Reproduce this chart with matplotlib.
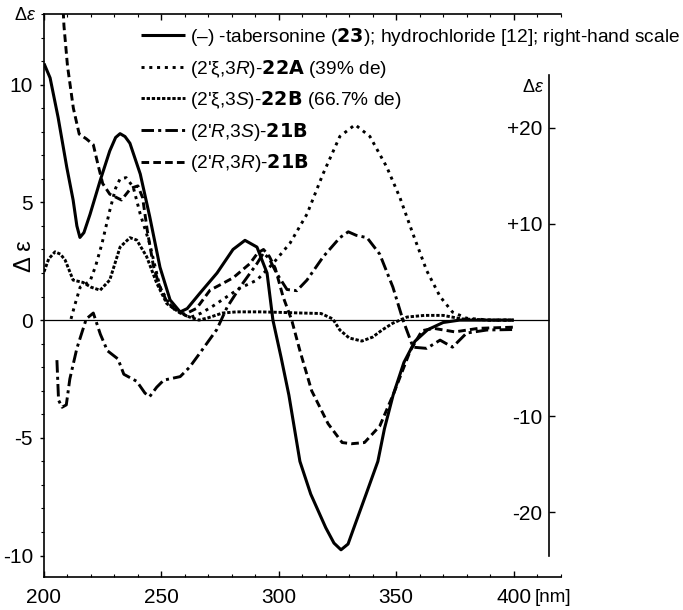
import matplotlib
matplotlib.use('Agg')
import matplotlib.pyplot as plt
from matplotlib.ticker import MultipleLocator, FixedLocator, FixedFormatter
from matplotlib import font_manager

plt.rcParams['font.family'] = ['Liberation Sans', 'DejaVu Sans']
plt.rcParams['axes.unicode_minus'] = False
plt.rcParams['mathtext.fontset'] = 'custom'
plt.rcParams['mathtext.rm'] = 'Liberation Sans'
plt.rcParams['mathtext.it'] = 'Liberation Sans:italic'
plt.rcParams['mathtext.bf'] = 'DejaVu Sans:bold'
plt.rcParams['lines.scale_dashes'] = False

names = {f.name for f in font_manager.fontManager.ttflist}
tick_family = 'Liberation Sans Narrow' if 'Liberation Sans Narrow' in names else 'Liberation Sans'

# ---------------- data ----------------
# (-)-tabersonine (23), right-hand scale
tab_nm = [200, 202.6, 206, 209.7, 212.4, 214, 215.3, 217, 219.6, 223.9, 228, 230.5, 232.4, 234.5,
          236.6, 241, 245, 249.4, 253.7, 258, 261, 266.4, 273.7, 280.5, 285.6, 290.7, 295, 297.5,
          301, 304.3, 309, 313.6, 320, 323.5, 326.5, 329.5, 332, 337.2, 342.2, 345, 348.7, 353.3,
          358, 363.4, 370, 377, 390, 400]
tab_de = [26.7, 25.2, 21.1, 15.9, 12.5, 9.8, 8.6, 9.1, 11.0, 14.5, 17.6, 19.0, 19.4, 19.1,
          18.4, 15.2, 10.8, 5.5, 2.1, 0.85, 1.2, 2.8, 4.9, 7.35, 8.3, 7.6, 4.9, 0.0,
          -3.9, -7.8, -14.7, -18.1, -21.6, -23.2, -23.9, -23.3, -21.6, -18.1, -14.7, -11.3, -7.8, -4.4,
          -2.2, -1.0, -0.25, 0.0, 0.0, 0.0]

# (2'xi,3R)-22A (39% de)
a22_nm = [211.5, 213, 215.4, 219.6, 222, 224.7, 228, 230.5, 232.4, 235, 238, 241, 245, 249.4, 253,
          256.6, 262, 267, 272, 278, 283.5, 290.7, 297.5, 304.8, 312, 318.8, 326, 332.5, 338.8,
          346, 351.6, 357, 363, 368.7, 374, 380, 390, 400]
a22_de = [0.05, 0.6, 1.4, 1.65, 2.3, 3.25, 4.65, 5.6, 6.0, 6.05, 5.65, 4.5, 3.25, 1.4, 0.75,
          0.42, 0.1, 0.3, 0.6, 1.0, 1.36, 1.7, 2.4, 3.27, 4.5, 6.2, 7.8, 8.3, 7.8,
          6.5, 5.2, 3.7, 2.1, 1.0, 0.34, 0.08, 0.0, 0.0]

# (2'xi,3S)-22B (66.7% de)
b22_nm = [200, 202, 204.7, 207, 209, 212.4, 216.6, 220, 223.9, 228, 232.4, 236.6, 239.5, 243.7,
          248, 252.3, 258, 262, 266, 270, 276, 282, 292, 300, 310, 318, 323, 326, 330, 335.4,
          340, 344, 348.6, 354.6, 362, 370, 378, 390, 400]
b22_de = [2.05, 2.6, 2.9, 2.8, 2.55, 1.7, 1.6, 1.4, 1.27, 1.7, 3.1, 3.5, 3.4, 2.7,
          1.57, 0.7, 0.3, 0.13, 0.0, 0.1, 0.3, 0.35, 0.35, 0.33, 0.3, 0.28, 0.05, -0.42, -0.76, -0.89,
          -0.72, -0.42, -0.13, 0.13, 0.2, 0.2, 0.05, 0.0, 0.0]

# (2'R,3S)-21B
rs21_nm = [205.5, 206.2, 207.7, 209.5, 211, 214, 218, 221, 224, 227, 231.5, 234, 239.5, 243, 245,
           248, 251, 258, 262, 266.4, 273.6, 278, 283.5, 290.7, 293.5, 296, 299, 303.5, 307.7,
           312, 319, 326, 329.6, 333, 337.6, 343, 348.6, 352.9, 357.2, 363, 368.7, 374, 380,
           388.7, 400]
rs21_de = [-1.7, -3.4, -3.7, -3.6, -2.5, -1.2, 0.05, 0.3, -0.6, -1.3, -1.65, -2.3, -2.6, -3.1, -3.25,
           -2.85, -2.55, -2.4, -2.0, -1.4, -0.4, 0.55, 1.4, 2.4, 2.85, 2.6, 2.0, 1.3, 1.25,
           1.7, 2.7, 3.5, 3.75, 3.6, 3.5, 2.8, 1.4, 0.0, -1.15, -1.2, -0.85, -1.15, -0.55,
           -0.42, -0.4]

# (2'R,3R)-21B
rr21_nm = [207.5, 208.5, 210, 212.5, 215, 218, 221, 223, 225, 228, 233, 237, 240, 242, 244, 246.6,
           249, 252, 256, 260, 265, 270.7, 276, 280.6, 287.7, 291, 293.5, 296, 298.5, 301.8,
           305.5, 309, 314, 321, 327, 331, 336.5, 343, 349, 356, 361, 366, 375, 385, 400]
rr21_de = [14.5, 12.5, 10.8, 9.0, 7.9, 7.7, 7.45, 6.6, 5.8, 5.35, 5.1, 5.6, 5.7, 5.2, 3.8, 2.3,
           1.5, 0.85, 0.4, 0.25, 0.5, 1.27, 1.55, 1.8, 2.4, 2.85, 3.0, 2.7, 2.2, 1.0,
           0.0, -1.3, -3.0, -4.4, -5.2, -5.25, -5.2, -4.5, -3.1, -1.3, -0.45, -0.35, -0.5, -0.35, -0.3]

labels = [
    r"(–) -tabersonine ($\mathbf{23}$); hydrochloride [12]; right-hand scale",
    r"(2'ξ,3$\mathit{R}$)-$\mathbf{22A}$ (39% de)",
    r"(2'ξ,3$\mathit{S}$)-$\mathbf{22B}$ (66.7% de)",
    r"(2'$\mathit{R}$,3$\mathit{S}$)-$\mathbf{21B}$",
    r"(2'$\mathit{R}$,3$\mathit{R}$)-$\mathbf{21B}$",
]

xticks = [200, 250, 300, 350, 400]
yticks_left = [-10, -5, 0, 5, 10]
yticks_right = [-20, -10, 10, 20]
yticklabels_right = ['-20', '-10', '+10', '+20']

# ---------------- layout ----------------
W, H = 683, 610
fig = plt.figure(figsize=(W / 100, H / 100), dpi=100)
ax = fig.add_axes([44 / W, 1 - 577 / H, (561 - 44) / W, (577 - 14) / H])

xlim = (200, 420.2)
ylim = (-10.91, 13.0)
K = 2.45                     # right scale / left scale
right_x = 415.1              # position of right-hand axis in nm
right_bounds = (-24.5, 25.5)

ax.set_xlim(*xlim)
ax.set_ylim(*ylim)

lw = 2.1
l_a22, = ax.plot(a22_nm, a22_de, color='black', lw=lw, linestyle=(0, (2.2, 3.4)))
l_b22, = ax.plot(b22_nm, b22_de, color='black', lw=lw, linestyle=(0, (2.4, 1.3)))
l_rs, = ax.plot(rs21_nm, rs21_de, color='black', lw=lw, linestyle=(0, (9, 3, 2.2, 3)))
l_rr, = ax.plot(rr21_nm, rr21_de, color='black', lw=lw, linestyle=(0, (5.5, 3)))
ax.hlines(0, xlim[0], right_x, color='black', lw=0.9)

for s in ['left', 'bottom', 'top']:
    ax.spines[s].set_linewidth(1.2)
ax.spines['right'].set_visible(False)

ax.xaxis.set_major_locator(FixedLocator(xticks))
ax.xaxis.set_minor_locator(MultipleLocator(10))
ax.yaxis.set_major_locator(FixedLocator(yticks_left))
ax.yaxis.set_minor_locator(MultipleLocator(1))
ax.tick_params(axis='x', which='major', direction='in', top=True, length=4, width=1,
               labelsize=15, pad=8)
ax.tick_params(axis='x', which='minor', direction='in', top=True, length=2.2, width=0.8)
ax.tick_params(axis='y', which='major', direction='out', right=False, length=3, width=1,
               labelsize=15, pad=5)
ax.tick_params(axis='y', which='minor', direction='out', right=False, length=2, width=0.8)
for t in ax.get_xticklabels() + ax.get_yticklabels():
    t.set_family(tick_family)

ax.text(409.0, -21 / 563, '[nm]', transform=ax.get_xaxis_transform(), fontsize=13.5,
        family=tick_family, ha='left', va='center')

# right-hand scale
ax2 = ax.twinx()
ax2.set_ylim(ylim[0] * K, ylim[1] * K)
for s in ['top', 'bottom', 'right']:
    ax2.spines[s].set_visible(False)
ax2.spines['left'].set_visible(True)
ax2.spines['left'].set_position(('data', right_x))
ax2.spines['left'].set_bounds(*right_bounds)
ax2.spines['left'].set_linewidth(1.2)
ax2.yaxis.set_ticks_position('left')
ax2.yaxis.set_label_position('left')
ax2.yaxis.set_major_locator(FixedLocator(yticks_right))
ax2.yaxis.set_major_formatter(FixedFormatter(yticklabels_right))
ax2.tick_params(axis='y', direction='in', length=4, width=1, labelsize=15, pad=5)
for t in ax2.get_yticklabels():
    t.set_family(tick_family)

l_tab, = ax2.plot(tab_nm, tab_de, color='black', lw=2.2, solid_capstyle='butt')

# axis symbols
fig.text(25 / W, 1 - 15 / H, r'$\mathit{Δε}$', fontsize=13, ha='center', va='center')
fig.text(533 / W, 1 - 88 / H, r'$\mathit{Δε}$', fontsize=13, ha='center', va='center')
fig.text(25 / W, 1 - 256 / H, 'Δ ε', fontsize=17, rotation=90, ha='center', va='center')

leg = ax.legend([l_tab, l_a22, l_b22, l_rs, l_rr], labels, loc='upper left',
                bbox_to_anchor=(141 / W, 1 - 26 / H), bbox_transform=fig.transFigure,
                frameon=False, fontsize=13.8, handlelength=2.3, handletextpad=0.25,
                labelspacing=0.5, borderpad=0, borderaxespad=0)

fig.savefig('out.png', dpi=100)
